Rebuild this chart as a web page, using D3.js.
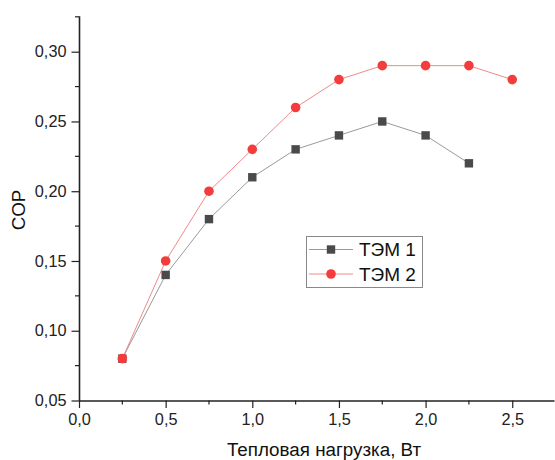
<!DOCTYPE html>
<html><head><meta charset="utf-8">
<script src="https://cdn.jsdelivr.net/npm/d3@7"></script>
<style>body{margin:0;background:#fff}text{font-family:"Liberation Sans",Arial,sans-serif}</style>
</head><body>
<svg id="c" width="555" height="460"></svg>
<script>
const loads1 = [0.25,0.5,0.75,1.0,1.25,1.5,1.75,2.0,2.25];
const cop1   = [0.08,0.14,0.18,0.21,0.23,0.24,0.25,0.24,0.22];
const loads2 = [0.25,0.5,0.75,1.0,1.25,1.5,1.75,2.0,2.25,2.5];
const cop2   = [0.08,0.15,0.20,0.23,0.26,0.28,0.29,0.29,0.29,0.28];
const xTicks = [0,0.5,1.0,1.5,2.0,2.5];
const yTicks = [0.05,0.10,0.15,0.20,0.25,0.30];
const seriesNames = ["ТЭМ 1","ТЭМ 2"];

const svg = d3.select("#c");
const L=79, R=554, T=15.7, B=400.5;
const x = d3.scaleLinear().domain([0,2.741]).range([L,R]);
const y = d3.scaleLinear().domain([0.05,0.3258]).range([B,T]);
const fmt = d => d3.format(".1f")(d).replace(".",",");
const fmtY = d => d3.format(".2f")(d).replace(".",",");

const xMinor = d3.range(0.25,2.75,0.5);
const yMinor = d3.range(0.075,0.33,0.05);
const gx = svg.append("g").attr("transform",`translate(0,${B})`)
  .call(d3.axisBottom(x).tickValues(xTicks).tickFormat(fmt).tickSize(7.5).tickSizeOuter(0).tickPadding(5));
gx.append("g").selectAll("line").data(xMinor).join("line")
  .attr("x1",d=>x(d)).attr("x2",d=>x(d)).attr("y1",0).attr("y2",4).attr("stroke","#222").attr("stroke-width",1.2);
const gy = svg.append("g").attr("transform",`translate(${L},0)`)
  .call(d3.axisLeft(y).tickValues(yTicks).tickFormat(fmtY).tickSize(7.5).tickSizeOuter(0).tickPadding(5));
gy.append("g").selectAll("line").data(yMinor).join("line")
  .attr("y1",d=>y(d)).attr("y2",d=>y(d)).attr("x1",0).attr("x2",-4).attr("stroke","#222").attr("stroke-width",1.2);
[gx,gy].forEach(g=>{
  g.select(".domain").attr("stroke","#222").attr("stroke-width",1.6);
  g.selectAll(".tick line").attr("stroke","#222").attr("stroke-width",1.2);
  g.selectAll(".tick text").attr("font-size",16.3).attr("fill","#222").attr("font-family","Liberation Sans, Arial, sans-serif");
});

svg.append("text").attr("x",324).attr("y",456).attr("text-anchor","middle")
  .attr("font-size",18.8).attr("fill","#111").text("Тепловая нагрузка, Вт");
svg.append("text").attr("transform","translate(24.5,210) rotate(-90)").attr("text-anchor","middle")
  .attr("font-size",18.8).attr("fill","#111").text("COP");

const line = d3.line().x(d=>x(d[0])).y(d=>y(d[1]));
const d1 = loads1.map((v,i)=>[v,cop1[i]]);
const d2 = loads2.map((v,i)=>[v,cop2[i]]);
const c1l="#9a9a9a", c1m="#4a4a4a", c2l="#f08a8a", c2m="#f43c3c";
svg.append("path").datum(d1).attr("d",line).attr("fill","none").attr("stroke",c1l).attr("stroke-width",1);
svg.append("path").datum(d2).attr("d",line).attr("fill","none").attr("stroke",c2l).attr("stroke-width",1);
svg.append("g").selectAll("rect").data(d1).join("rect")
  .attr("x",d=>x(d[0])-4.2).attr("y",d=>y(d[1])-4.2).attr("width",8.4).attr("height",8.4).attr("fill",c1m);
svg.append("g").selectAll("circle").data(d2).join("circle")
  .attr("cx",d=>x(d[0])).attr("cy",d=>y(d[1])).attr("r",4.8).attr("fill",c2m);

const lg = svg.append("g");
lg.append("rect").attr("x",306.5).attr("y",236.5).attr("width",116).attr("height",51)
  .attr("fill","#fff").attr("stroke","#888").attr("stroke-width",1);
const rows=[{n:seriesNames[0],l:c1l,m:c1m,s:"sq",y:249.5,b:255.7},{n:seriesNames[1],l:c2l,m:c2m,s:"ci",y:274,b:281}];
rows.forEach(r=>{
  lg.append("line").attr("x1",309).attr("x2",353).attr("y1",r.y).attr("y2",r.y).attr("stroke",r.l).attr("stroke-width",1);
  if(r.s==="sq") lg.append("rect").attr("x",331-4.2).attr("y",r.y-4.2).attr("width",8.4).attr("height",8.4).attr("fill",r.m);
  else lg.append("circle").attr("cx",331).attr("cy",r.y).attr("r",4.8).attr("fill",r.m);
  lg.append("text").attr("x",359).attr("y",r.b).attr("font-size",19).attr("fill","#111").text(r.n);
});
</script>
</body></html>
